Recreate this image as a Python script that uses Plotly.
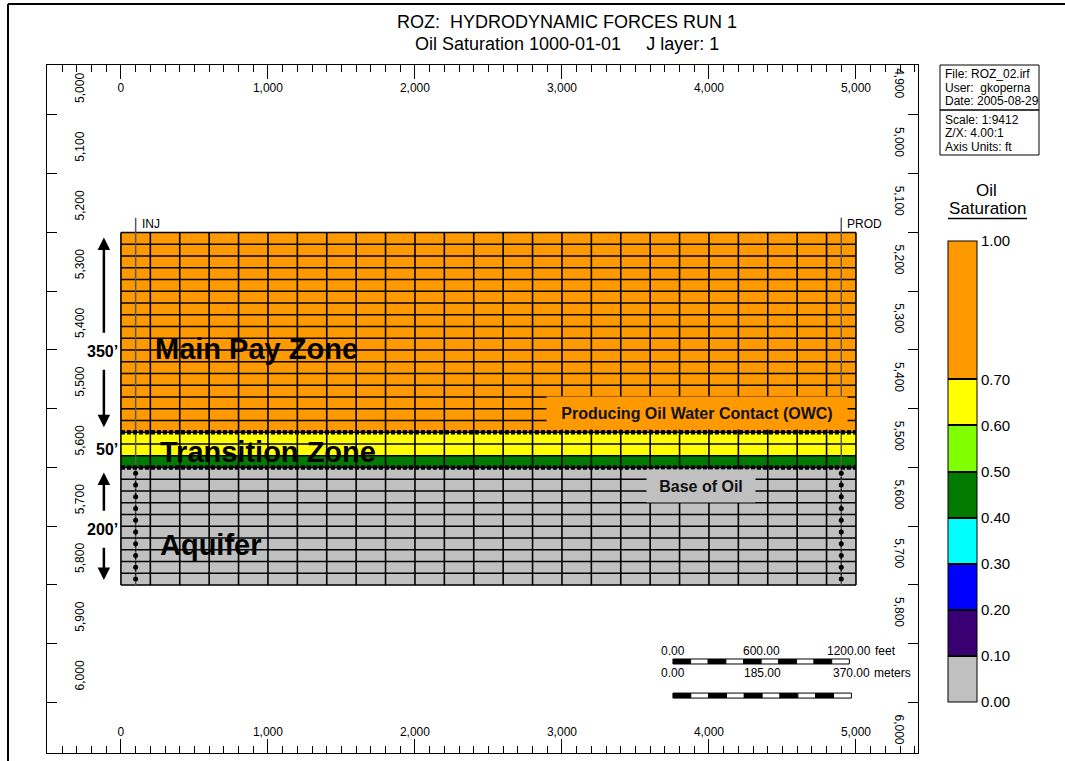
import plotly.graph_objects as go

FONT = "Liberation Sans, Arial, sans-serif"

# ---------------- reservoir grid (ft) ----------------
col_edges_ft = [0, 200, 400, 600, 800, 1000, 1200, 1400, 1600, 1800, 2000, 2200, 2400,
                2600, 2800, 3000, 3200, 3400, 3600, 3800, 4000, 4200, 4400, 4600, 4800, 5000]
layer_edges_ft = [5200, 5220, 5240, 5260, 5280, 5300, 5320, 5340, 5360, 5380, 5400, 5420,
                  5440, 5460, 5480, 5500, 5520, 5540, 5560, 5580, 5600, 5620, 5640, 5660,
                  5680, 5700, 5720, 5740, 5760, 5780, 5800]
# oil saturation per layer at the initial date (uniform along each layer)
layer_so = [0.85, 0.85, 0.85, 0.85, 0.85, 0.85, 0.85, 0.85, 0.85, 0.85, 0.85, 0.85,
            0.85, 0.85, 0.85, 0.85, 0.85,
            0.65, 0.65, 0.45,
            0.0, 0.0, 0.0, 0.0, 0.0, 0.0, 0.0, 0.0, 0.0, 0.0]

# ---------------- wells ----------------
well_names = ["INJ", "PROD"]
well_x_ft = [100, 4900]
well_top_ft = 5175
perf_depth_ft = [5610, 5630, 5650, 5670, 5690, 5710, 5730, 5750, 5770, 5790]

# ---------------- contacts and zones ----------------
contact_depth_ft = [5540, 5600]
contact_names = ["Producing Oil Water Contact (OWC)", "Base of Oil"]
zone_names = ["Main Pay Zone", "Transition Zone", "Aquifer"]
zone_top_ft = [5200, 5540, 5600]
zone_base_ft = [5540, 5600, 5800]
zone_thickness_text = ["350\u2019", "50\u2019", "200\u2019"]

# ---------------- colour legend ----------------
so_bin_edges = [0.0, 0.1, 0.2, 0.3, 0.4, 0.5, 0.6, 0.7, 1.0]
so_bin_colors = ["#C0C0C0", "#3A0073", "#0000FF", "#00FFFF",
                 "#007A00", "#80FF00", "#FFFF00", "#FF9900"]

# ---------------- axes labels ----------------
x_tick_ft = [0, 1000, 2000, 3000, 4000, 5000]
left_depth_labels = [5000, 5100, 5200, 5300, 5400, 5500, 5600, 5700, 5800, 5900, 6000]
right_depth_labels = [4900, 5000, 5100, 5200, 5300, 5400, 5500, 5600, 5700, 5800, 6000]

# ---------------- scale bars ----------------
FT_PER_M = 3.28084
feet_bar_len = 1200.0
meter_bar_len = 370.0
bar_segments = 10

# ---------------- page layout (pixels) ----------------
W, H = 1065, 761
ML, MR, MT, MB = 47, 147, 65, 8
PW, PH = W - ML - MR, H - MT - MB
X_RANGE = [-503, 5422]
Y_RANGE = [6086, 4915]
FT_PER_PX_Y = (Y_RANGE[0] - Y_RANGE[1]) / PH


def px_x(px):
    return (px - ML) / PW


def px_y(py):
    return 1 - (py - MT) / PH


def depth_to_paper(d):
    return (Y_RANGE[0] - d) / (Y_RANGE[0] - Y_RANGE[1])


colorscale = []
for i, c in enumerate(so_bin_colors):
    colorscale.append([so_bin_edges[i], c])
    colorscale.append([so_bin_edges[i + 1], c])

fig = go.Figure()

# saturation blocks
fig.add_trace(go.Heatmap(
    x=col_edges_ft, y=layer_edges_ft,
    z=[[so] * (len(col_edges_ft) - 1) for so in layer_so],
    zmin=0, zmax=1, colorscale=colorscale, hoverinfo="skip",
    colorbar=dict(
        x=px_x(948), xanchor="left", xpad=0,
        y=px_y(471.5), yanchor="middle", ypad=0,
        len=461, lenmode="pixels", thickness=29, thicknessmode="pixels",
        outlinewidth=1, outlinecolor="black",
        tickvals=so_bin_edges, ticktext=[f"{v:.2f}" for v in so_bin_edges],
        ticks="inside", ticklen=29, tickwidth=1.5, tickcolor="black",
        tickfont=dict(family=FONT, size=15, color="black"),
    ),
))

# block outlines
gx, gy = [], []
for x in col_edges_ft:
    gx += [x, x, None]
    gy += [layer_edges_ft[0], layer_edges_ft[-1], None]
for y in layer_edges_ft:
    gx += [col_edges_ft[0], col_edges_ft[-1], None]
    gy += [y, y, None]
fig.add_trace(go.Scatter(x=gx, y=gy, mode="lines", line=dict(color="black", width=1.6),
                         hoverinfo="skip", showlegend=False))

# well bores and perforations
for name, wx in zip(well_names, well_x_ft):
    fig.add_trace(go.Scatter(x=[wx, wx], y=[well_top_ft, layer_edges_ft[-1]], mode="lines",
                             line=dict(color="#5a5a5a", width=1.5), hoverinfo="skip",
                             showlegend=False))
    fig.add_trace(go.Scatter(x=[wx] * len(perf_depth_ft), y=perf_depth_ft, mode="lines+markers",
                             line=dict(color="black", width=1.2, dash="2px,2px"),
                             marker=dict(color="black", size=5), hoverinfo="skip",
                             showlegend=False))

# contacts
for d in contact_depth_ft:
    fig.add_trace(go.Scatter(x=[col_edges_ft[0], col_edges_ft[-1]], y=[d, d], mode="lines",
                             line=dict(color="black", width=4.5, dash="4px,2px"),
                             hoverinfo="skip", showlegend=False))

# empty traces so the top and right axes are rendered
fig.add_trace(go.Scatter(x=[None], y=[None], xaxis="x2", yaxis="y", hoverinfo="skip",
                         showlegend=False))
fig.add_trace(go.Scatter(x=[None], y=[None], xaxis="x", yaxis="y2", hoverinfo="skip",
                         showlegend=False))

annotations = []

# titles
annotations.append(dict(text="ROZ:  HYDRODYNAMIC FORCES RUN 1", x=px_x(567), y=px_y(22),
                        xref="paper", yref="paper", font=dict(size=18)))
annotations.append(dict(text="Oil Saturation 1000-01-01     J layer: 1", x=px_x(567),
                        y=px_y(44), xref="paper", yref="paper", font=dict(size=18)))

# depth labels along the side axes (text starts at the tick)
for v in left_depth_labels:
    annotations.append(dict(text=f"{v:,}", xref="paper", yref="paper", x=px_x(80),
                            y=depth_to_paper(v), yshift=27, textangle=-90,
                            font=dict(size=12)))
for v in right_depth_labels:
    annotations.append(dict(text=f"{v:,}", xref="paper", yref="paper", x=px_x(899),
                            y=depth_to_paper(v), yshift=-27, textangle=90,
                            font=dict(size=12)))

# well names
for name, wx in zip(well_names, well_x_ft):
    annotations.append(dict(text=name, x=wx, y=well_top_ft, xref="x", yref="y",
                            xanchor="left", xshift=4, yshift=-6, font=dict(size=12)))

# zone names
zone_label_x = [218, 252, 252]
zone_label_y = [5398, 5574, 5732]
for name, lx, ly in zip(zone_names, zone_label_x, zone_label_y):
    annotations.append(dict(text=f"<b>{name}</b>", x=lx, y=ly, xref="x", yref="y",
                            xanchor="left", font=dict(size=29)))

# zone thickness labels with arrows
thick_label_y = [5402, 5570, 5705]
arrow_x = -116
gap_ft = 17 * FT_PER_PX_Y
for i, (txt, ly) in enumerate(zip(zone_thickness_text, thick_label_y)):
    annotations.append(dict(text=f"<b>{txt}</b>", x=-7, y=ly, xref="x", yref="y",
                            xanchor="right", font=dict(size=16)))
    if i == 1:
        continue
    for tip, tail in ((zone_top_ft[i], ly - gap_ft), (zone_base_ft[i], ly + gap_ft)):
        annotations.append(dict(text="", x=arrow_x, y=tip, ax=arrow_x, ay=tail,
                                xref="x", yref="y", axref="x", ayref="y",
                                showarrow=True, arrowhead=2, arrowwidth=2.5, arrowsize=1,
                                arrowcolor="black", standoff=5))

# contact labels
contact_label_pos = [(3918, 5507, "#FF9900", 290), (3946, 5631, "#C0C0C0", 98)]
for name, (cx, cy, bg, bw) in zip(contact_names, contact_label_pos):
    annotations.append(dict(text=f"<b>{name}</b>", x=cx, y=cy, xref="x", yref="y",
                            bgcolor=bg, borderpad=5, width=bw, height=22,
                            font=dict(size=16, color="#111111")))

# scale bars
bar_x0 = 3755
feet_bar_y = (5926, 5934.5)
meter_bar_y = (5984, 5992.5)
shapes = []
for length_ft, (y0, y1) in ((feet_bar_len, feet_bar_y), (meter_bar_len * FT_PER_M, meter_bar_y)):
    seg = length_ft / bar_segments
    for k in range(bar_segments):
        shapes.append(dict(type="rect", xref="x", yref="y", x0=bar_x0 + k * seg,
                           x1=bar_x0 + (k + 1) * seg, y0=y0, y1=y1,
                           fillcolor="black" if k % 2 == 0 else "white",
                           line=dict(color="black", width=1)))
feet_label_y = 5912
meter_label_y = 5950
for val, frac in ((0.0, 0.0), (feet_bar_len / 2, 0.5), (feet_bar_len, 1.0)):
    annotations.append(dict(text=f"{val:.2f}", x=bar_x0 + frac * feet_bar_len, y=feet_label_y,
                            xref="x", yref="y", font=dict(size=12)))
annotations.append(dict(text="feet", x=bar_x0 + feet_bar_len, y=feet_label_y, xref="x",
                        yref="y", xanchor="left", xshift=24, font=dict(size=12)))
for val, frac in ((0.0, 0.0), (meter_bar_len / 2, 0.5), (meter_bar_len, 1.0)):
    annotations.append(dict(text=f"{val:.2f}", x=bar_x0 + frac * meter_bar_len * FT_PER_M,
                            y=meter_label_y, xref="x", yref="y", font=dict(size=12)))
annotations.append(dict(text="meters", x=bar_x0 + meter_bar_len * FT_PER_M, y=meter_label_y,
                        xref="x", yref="y", xanchor="left", xshift=21, font=dict(size=12)))

# info box
info_lines = [("File: ROZ_02.irf", 74), ("User:  gkoperna", 88), ("Date: 2005-08-29", 101),
              ("Scale: 1:9412", 120), ("Z/X: 4.00:1", 133), ("Axis Units: ft", 147)]
for txt, py in info_lines:
    annotations.append(dict(text=txt, xref="paper", yref="paper", x=px_x(943), y=px_y(py),
                            xanchor="left", font=dict(size=12)))
shapes.append(dict(type="rect", xref="paper", yref="paper", x0=px_x(940), x1=px_x(1039),
                   y0=px_y(65), y1=px_y(110), line=dict(color="black", width=1)))
shapes.append(dict(type="rect", xref="paper", yref="paper", x0=px_x(940), x1=px_x(1039),
                   y0=px_y(110), y1=px_y(155), line=dict(color="black", width=1)))

# legend title
annotations.append(dict(text="Oil", xref="paper", yref="paper", x=px_x(986), y=px_y(190),
                        font=dict(size=17)))
annotations.append(dict(text="Saturation", xref="paper", yref="paper", x=px_x(987.5),
                        y=px_y(208), font=dict(size=17)))
shapes.append(dict(type="line", xref="paper", yref="paper", x0=px_x(948), x1=px_x(1027),
                   y0=px_y(218.5), y1=px_y(218.5), line=dict(color="black", width=1.5)))

# page frame
shapes.append(dict(type="line", xref="paper", yref="paper", x0=px_x(8), x1=px_x(8),
                   y0=px_y(4), y1=px_y(770), line=dict(color="black", width=2)))
shapes.append(dict(type="line", xref="paper", yref="paper", x0=px_x(8), x1=px_x(1070),
                   y0=px_y(4), y1=px_y(4), line=dict(color="black", width=2)))

for a in annotations:
    a.setdefault("showarrow", False)
    a.setdefault("xanchor", "center")
    a.setdefault("yanchor", "middle")
    a.setdefault("font", {})
    a["font"].setdefault("family", FONT)
    a["font"].setdefault("color", "black")

axis_common = dict(showgrid=False, zeroline=False, showline=True, linecolor="black",
                   linewidth=1, tickcolor="black", tickfont=dict(family=FONT, size=12,
                                                                 color="black"))
fig.update_layout(
    width=W, height=H, margin=dict(l=ML, r=MR, t=MT, b=MB, autoexpand=False),
    paper_bgcolor="white", plot_bgcolor="white", showlegend=False,
    font=dict(family=FONT, color="black"),
    xaxis=dict(range=X_RANGE, tickvals=x_tick_ft, tickformat=",d", ticks="inside",
               ticklen=14, tickwidth=1, ticklabelposition="inside", mirror=True,
               minor=dict(dtick=100, tick0=0, ticks="inside", ticklen=7, tickcolor="black"),
               **axis_common),
    xaxis2=dict(range=X_RANGE, overlaying="x", side="top", anchor="y", tickvals=x_tick_ft,
                tickformat=",d", ticks="inside", ticklen=14, tickwidth=1,
                ticklabelposition="inside", ticklabelstandoff=4,
                minor=dict(dtick=100, tick0=0, ticks="inside", ticklen=7, tickcolor="black"),
                **axis_common),
    yaxis=dict(range=Y_RANGE, dtick=100, tick0=0, ticks="inside", ticklen=10,
               showticklabels=False, mirror=True, **axis_common),
    yaxis2=dict(range=Y_RANGE, overlaying="y", side="right", anchor="x", dtick=100, tick0=0,
                ticks="inside", ticklen=10, showticklabels=False, **axis_common),
    annotations=annotations, shapes=shapes,
)

fig.write_html("out.html")
